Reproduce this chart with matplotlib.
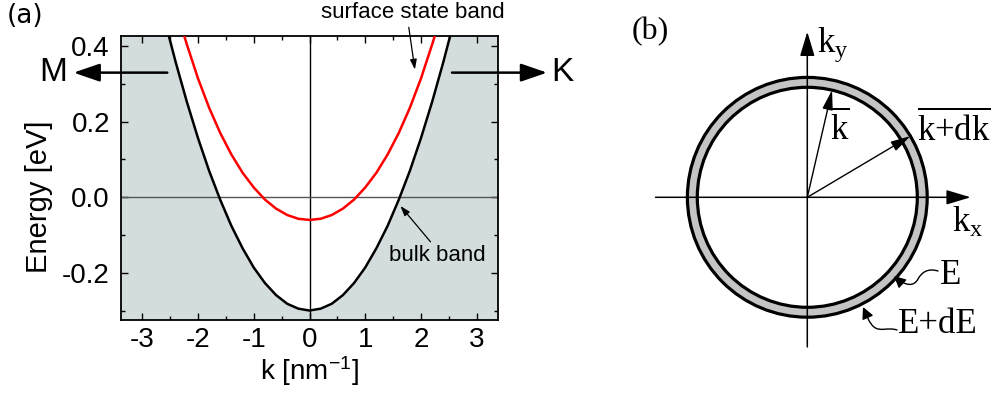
import numpy as np
import matplotlib
matplotlib.use("Agg")
import matplotlib.pyplot as plt
from matplotlib.path import Path
from matplotlib.patches import FancyArrowPatch, Circle, Wedge
from matplotlib.ticker import MultipleLocator

plt.rcParams['mathtext.default'] = 'regular'

# ---------------- data (panel a) ----------------
k_bulk = [-2.52, -2.4, -2.2, -2.0, -1.8, -1.6, -1.4, -1.2, -1.0, -0.8, -0.6, -0.4, -0.2, 0.0,
          0.2, 0.4, 0.6, 0.8, 1.0, 1.2, 1.4, 1.6, 1.8, 2.0, 2.2, 2.4, 2.52]
E_bulk = [0.426, 0.358, 0.253, 0.157, 0.070, -0.007, -0.076, -0.135, -0.186, -0.227, -0.259, -0.282, -0.295, -0.300,
          -0.295, -0.282, -0.259, -0.227, -0.186, -0.135, -0.076, -0.007, 0.070, 0.157, 0.253, 0.358, 0.426]
k_surf = [-2.25, -2.2, -2.0, -1.8, -1.6, -1.4, -1.2, -1.0, -0.8, -0.6, -0.4, -0.2, 0.0,
          0.2, 0.4, 0.6, 0.8, 1.0, 1.2, 1.4, 1.6, 1.8, 2.0, 2.2, 2.25]
E_surf = [0.429, 0.405, 0.315, 0.237, 0.170, 0.113, 0.065, 0.026, -0.006, -0.030, -0.047, -0.057, -0.060,
          -0.057, -0.047, -0.030, -0.006, 0.026, 0.065, 0.113, 0.170, 0.237, 0.315, 0.405, 0.429]
x_ticks = [-3, -2, -1, 0, 1, 2, 3]
y_ticks = [-0.2, 0.0, 0.2, 0.4]
y_tick_labels = ['-0.2', '0.0', '0.2', '0.4']

# ---------------- data (panel b) ----------------
k_radius = 1.0
dk = 0.09
angle_k = 77.0
angle_kdk = 30.7

fig = plt.figure(figsize=(9.94, 3.99), dpi=100)

# ================= panel (a) =================
ax = fig.add_axes([121/994, 1-320/399, 377/994, 284/399])
xlim = (-3.38, 3.38)
ylim = (-0.325, 0.427)
ax.set_xlim(*xlim)
ax.set_ylim(*ylim)
ax.set_facecolor('#d3dddd')
ax.fill_between(k_bulk, E_bulk, ylim[1], color='white', zorder=1)
ax.axvline(0, color='black', lw=1.0, zorder=2)
ax.axhline(0, color='#555555', lw=1.0, zorder=2)
ax.plot(k_bulk, E_bulk, color='black', lw=1.8, zorder=3)
ax.plot(k_surf, E_surf, color='#ff0000', lw=1.8, zorder=3)

sans = 'Liberation Sans'
ax.set_xticks(x_ticks)
ax.set_xticklabels([str(v) for v in x_ticks], family=sans, fontsize=20)
ax.set_yticks(y_ticks)
ax.set_yticklabels(y_tick_labels, family=sans, fontsize=20)
ax.xaxis.set_minor_locator(MultipleLocator(0.5))
ax.yaxis.set_minor_locator(MultipleLocator(0.1))
ax.tick_params(which='both', direction='in', top=True, right=True, width=1.0)
ax.tick_params(axis='x', which='major', length=5, pad=5)
ax.tick_params(axis='y', which='major', length=5, pad=8)
ax.tick_params(which='minor', length=3)
for s in ax.spines.values():
    s.set_linewidth(1.3)
ax.set_xlabel('k [nm$^{-1}$]', family=sans, fontsize=20, labelpad=1)
ax.set_ylabel('Energy [eV]', family=sans, fontsize=21)
ax.yaxis.set_label_coords(-0.18, 0.433)

# M and K arrows
y_arr = 0.33
arr_style = dict(arrowstyle='-|>,head_length=1.6,head_width=0.55', color='black', lw=1.8,
                 shrinkA=0, shrinkB=0)
ax.annotate('', xy=(-4.23, y_arr), xytext=(-2.55, y_arr), annotation_clip=False, arrowprops=arr_style)
ax.annotate('', xy=(4.26, y_arr), xytext=(2.555, y_arr), annotation_clip=False, arrowprops=arr_style)
ax.text(-4.6, y_arr, 'M', family=sans, fontsize=24, ha='center', va='center', clip_on=False)
ax.text(4.54, y_arr, 'K', family=sans, fontsize=24, ha='center', va='center', clip_on=False)

# annotations
ax.text(1.85, 0.49, 'surface state band', family=sans, fontsize=16, ha='center', va='center',
        clip_on=False)
ax.annotate('', xy=(1.89, 0.338), xytext=(1.78, 0.45), annotation_clip=False,
            arrowprops=dict(arrowstyle='-|>,head_length=0.6,head_width=0.2', color='black', lw=0.9,
                            shrinkA=0, shrinkB=0))
ax.text(2.3, -0.153, 'bulk band', family=sans, fontsize=16, ha='center', va='center')
ax.annotate('', xy=(1.63, -0.023), xytext=(2.17, -0.118),
            arrowprops=dict(arrowstyle='-|>,head_length=0.6,head_width=0.2', color='black', lw=0.9,
                            shrinkA=0, shrinkB=0))

fig.text(7/994, 1-16/399, '(a)', family='DejaVu Sans', fontsize=19, ha='left', va='center')

# ================= panel (b) =================
px = 110.0  # pixels per unit
cx, cy = 807.3, 197.3
bx = fig.add_axes([600/994, 0, 394/994, 1])
bx.set_xlim((600-cx)/px, (994-cx)/px)
bx.set_ylim((cy-399)/px, cy/px)
bx.axis('off')

serif = 'Liberation Serif'
r_out = k_radius + dk
bx.add_patch(Wedge((0, 0), r_out, 0, 360, width=dk, facecolor='#c4c4c4', edgecolor='none', zorder=1))
bx.add_patch(Circle((0, 0), k_radius, facecolor='none', edgecolor='black', lw=2.3, zorder=2))
bx.add_patch(Circle((0, 0), r_out, facecolor='none', edgecolor='black', lw=2.3, zorder=2))

axis_style = dict(arrowstyle='-|>,head_length=1.5,head_width=0.45', color='black', lw=1.1,
                  shrinkA=0, shrinkB=0)
bx.annotate('', xy=(1.485, 0), xytext=(-1.38, 0), arrowprops=axis_style)
bx.annotate('', xy=(0, 1.505), xytext=(0, -1.36), arrowprops=axis_style)

vec_style = dict(arrowstyle='-|>,head_length=1.2,head_width=0.32', color='black', lw=1.0,
                 shrinkA=0, shrinkB=0)
a1 = np.deg2rad(angle_k)
a2 = np.deg2rad(angle_kdk)
bx.annotate('', xy=(k_radius*np.cos(a1), k_radius*np.sin(a1)), xytext=(0, 0), arrowprops=vec_style)
bx.annotate('', xy=(r_out*np.cos(a2), r_out*np.sin(a2)), xytext=(0, 0), arrowprops=vec_style)

bx.text(0.09, 1.385, 'k$_y$', family=serif, fontsize=25, ha='left', va='center')
bx.text(1.315, -0.235, 'k$_x$', family=serif, fontsize=25, ha='left', va='center')
bx.text(0.29, 0.62, r'$\overline{k}$', family=serif, fontsize=25, ha='center', va='center')
bx.text(0.995, 0.62, r'$\overline{k{+}dk}$', family=serif, fontsize=25, ha='left', va='center')
bx.text(1.306, -0.711, 'E', family=serif, fontsize=25, ha='center', va='center')
bx.text(0.824, -1.16, 'E+dE', family=serif, fontsize=25, ha='left', va='center')

def u(p):
    return ((p[0]-cx)/px, (cy-p[1])/px)

def leader(pts):
    verts = [u(p) for p in pts]
    codes = [Path.MOVETO] + [Path.CURVE4]*(len(verts)-1)
    patch = FancyArrowPatch(path=Path(verts, codes),
                            arrowstyle='-|>,head_length=7,head_width=3.5', color='black', lw=1.0)
    bx.add_patch(patch)

leader([(938, 271), (928, 268), (922, 272), (918, 279),
        (914, 287), (905, 286), (894, 276)])
leader([(897, 330), (888, 327), (880, 332), (874, 327),
        (869, 323), (867, 316), (863, 307)])

fig.text(632/994, 1-32/399, '(b)', family=serif, fontsize=23, ha='left', va='center')

fig.savefig('out.png', dpi=100)
